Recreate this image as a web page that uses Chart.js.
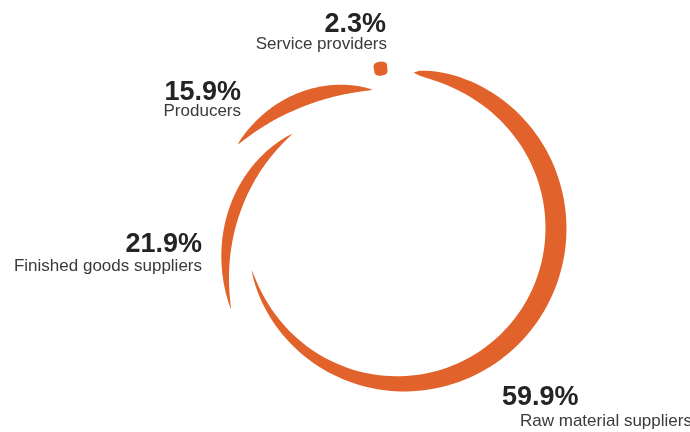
<!DOCTYPE html>
<html>
<head>
<meta charset="utf-8">
<script src="https://cdn.jsdelivr.net/npm/chart.js@4/dist/chart.umd.min.js"></script>
<style>
  html, body { margin: 0; padding: 0; background: #fff; }
  canvas { display: block; }
</style>
</head>
<body>
<canvas id="supplierchart" width="690" height="432"></canvas>
<script>
var categories = ['Raw material suppliers', 'Finished goods suppliers', 'Producers', 'Service providers'];
var shares = [59.9, 21.9, 15.9, 2.3];

var ORANGE = '#e2622b';

// brush-stroke look for each slice: angle tweaks (deg), mid radius at both ends
// (share of outer radius), peak width (px), where the peak sits, tip bluntness
var strokeStyles = [
    { from: 8, to: 42, r0: 0.924, r1: 0.905, width: 21, skew: 0.68, blunt: 0.7 },
    { from: 32, to: 20, r0: 1.1, r1: 0.845, width: 12, skew: 1, blunt: 0.8 },
    { from: 6, to: 0, r0: 1.076, r1: 0.835, width: 15, skew: 1, blunt: 0.8 },
    { from: 2, to: -1.5, r0: 0.95, r1: 0.95, width: 14, skew: 1, blunt: 0.2 }
];

// where each caption goes: percentage baseline, name baseline
var captionSpots = [
    { align: 'left', x: 502, nameX: 520, y: 405, nameY: 426 },
    { align: 'right', x: 202, nameX: 202, y: 252, nameY: 271 },
    { align: 'right', x: 241, nameX: 241, y: 100, nameY: 116 },
    { align: 'right', x: 386, nameX: 387, y: 32, nameY: 49 }
];

function traceCrescent(ctx, x, y, a0, a1, r0, r1, s) {
    var steps = 120, outer = [], inner = [], i, t, a, r, h;
    for (i = 0; i <= steps; i++) {
        t = i / steps;
        a = a0 + (a1 - a0) * t;
        r = r0 + (r1 - r0) * t;
        h = s.width / 2 * Math.pow(Math.sin(Math.PI * Math.pow(t, s.skew)), s.blunt);
        outer.push([x + (r + h) * Math.cos(a), y + (r + h) * Math.sin(a)]);
        inner.push([x + (r - h) * Math.cos(a), y + (r - h) * Math.sin(a)]);
    }
    ctx.beginPath();
    ctx.moveTo(outer[0][0], outer[0][1]);
    for (i = 1; i < outer.length; i++) ctx.lineTo(outer[i][0], outer[i][1]);
    for (i = inner.length - 1; i >= 0; i--) ctx.lineTo(inner[i][0], inner[i][1]);
    ctx.closePath();
}

var crescentPlugin = {
    id: 'crescents',
    // slices are painted as tapered strokes instead of flat ring sectors
    beforeDatasetsDraw: function (chart) {
        var ctx = chart.ctx;
        var meta = chart.getDatasetMeta(0);
        var rad = Math.PI / 180;
        ctx.save();
        meta.data.forEach(function (arc, i) {
            var p = arc.getProps(['x', 'y', 'startAngle', 'endAngle', 'outerRadius'], true);
            var s = strokeStyles[i];
            traceCrescent(ctx, p.x, p.y,
                p.startAngle + s.from * rad, p.endAngle + s.to * rad,
                s.r0 * p.outerRadius, s.r1 * p.outerRadius, s);
            ctx.fillStyle = ORANGE;
            ctx.fill();
        });
        ctx.restore();
        return false;
    },
    afterDraw: function (chart) {
        var ctx = chart.ctx;
        var values = chart.data.datasets[0].data;
        ctx.save();
        chart.data.labels.forEach(function (name, i) {
            var spot = captionSpots[i];
            ctx.textAlign = spot.align;
            ctx.textBaseline = 'alphabetic';
            ctx.fillStyle = '#242424';
            ctx.font = 'bold 27px "Liberation Sans", Arial, sans-serif';
            ctx.fillText(values[i].toFixed(1) + '%', spot.x, spot.y);
            ctx.fillStyle = '#3a3a3a';
            ctx.font = '17px "Liberation Sans", Arial, sans-serif';
            ctx.fillText(name, spot.nameX, spot.nameY);
        });
        ctx.restore();
    }
};

var ctx = document.getElementById('supplierchart').getContext('2d');
var supplierChart = new Chart(ctx, {
    type: 'doughnut',
    data: {
        labels: categories,
        datasets: [{
            data: shares,
            backgroundColor: ORANGE,
            borderWidth: 0
        }]
    },
    options: {
        responsive: false,
        animation: false,
        rotation: -3,
        cutout: '88%',
        layout: {
            padding: { left: 230, right: 120, top: 59, bottom: 33 }
        },
        plugins: {
            legend: { display: false },
            tooltip: { enabled: false }
        }
    },
    plugins: [crescentPlugin]
});
</script>
</body>
</html>
